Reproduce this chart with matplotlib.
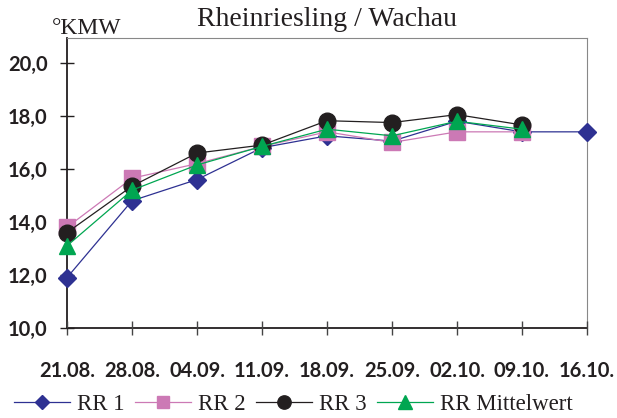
import numpy as np
import matplotlib
matplotlib.use("Agg")
import matplotlib.pyplot as plt

dates = ["21.08.", "28.08.", "04.09.", "11.09.", "18.09.", "25.09.", "02.10.", "09.10.", "16.10."]
rr1 = [11.9, 14.8, 15.6, 16.8, 17.25, 17.05, 17.8, 17.4, 17.4]
rr2 = [13.8, 15.65, 16.2, 16.85, 17.4, 17.0, 17.4, 17.4, np.nan]
rr3 = [13.6, 15.35, 16.6, 16.9, 17.82, 17.75, 18.05, 17.66, np.nan]
rrm = [13.1, 15.2, 16.15, 16.85, 17.5, 17.25, 17.8, 17.5, np.nan]
yticks = [10, 12, 14, 16, 18, 20]
ytick_labels = ["10,0", "12,0", "14,0", "16,0", "18,0", "20,0"]

title = "Rheinriesling / Wachau"
ylabel = "°KMW"

serif = "Liberation Serif"
sans = "Lato"

fig = plt.figure(figsize=(6.17, 4.18), dpi=100)
ax = fig.add_axes([67/617, 1-328/418, 520/617, 290/418])

x = np.arange(len(dates))
ax.plot(x, rr1, color="#2E3192", lw=0.9, marker="D", ms=9, label="RR 1", zorder=3)
ax.plot(x, rr2, color="#CC79B5", lw=0.9, marker="s", ms=11, label="RR 2", zorder=4)
ax.plot(x, rr3, color="#231F20", lw=0.9, marker="o", ms=12, label="RR 3", zorder=5)
ax.plot(x, rrm, color="#00A651", lw=0.9, marker="^", ms=12, label="RR Mittelwert", zorder=6)

ax.set_xlim(0, len(dates) - 1)
ax.set_ylim(10, 20.94)
ax.set_xticks(x)
ax.set_xticklabels(dates, fontfamily=sans, fontweight="bold", fontsize=14.5, color="#231F20")
ax.set_yticks(yticks)
ax.set_yticklabels(ytick_labels, fontfamily=sans, fontweight="bold", fontsize=14.5, color="#231F20")
ax.tick_params(axis="x", direction="inout", length=10, width=1, pad=19, color="#444444")
ax.tick_params(axis="y", direction="inout", length=10, width=1, pad=9, color="#231F20")

for s in ["left", "bottom"]:
    ax.spines[s].set_color("#231F20")
    ax.spines[s].set_linewidth(1.3)
for s in ["top", "right"]:
    ax.spines[s].set_color("#888888")
    ax.spines[s].set_linewidth(0.8)
for sp in ax.spines.values():
    sp.set_zorder(1)
for line in ax.lines:
    line.set_clip_on(False)

fig.text(327/617, 1-20/418, title, ha="center", va="center", fontfamily=serif, fontsize=20, color="#231F20")
fig.text(52/617, 1-29/418, ylabel, ha="left", va="center", fontfamily=serif, fontsize=17, color="#231F20")

leg = fig.legend(loc="center left", bbox_to_anchor=(14/617, 1-404/418), ncol=4, frameon=False,
                 prop={"family": serif, "size": 16.5}, handlelength=2.45, handletextpad=0.3,
                 columnspacing=0.45, borderaxespad=0, borderpad=0, markerscale=0.8)
for t in leg.get_texts():
    t.set_color("#231F20")

fig.savefig("out.png", dpi=100)
